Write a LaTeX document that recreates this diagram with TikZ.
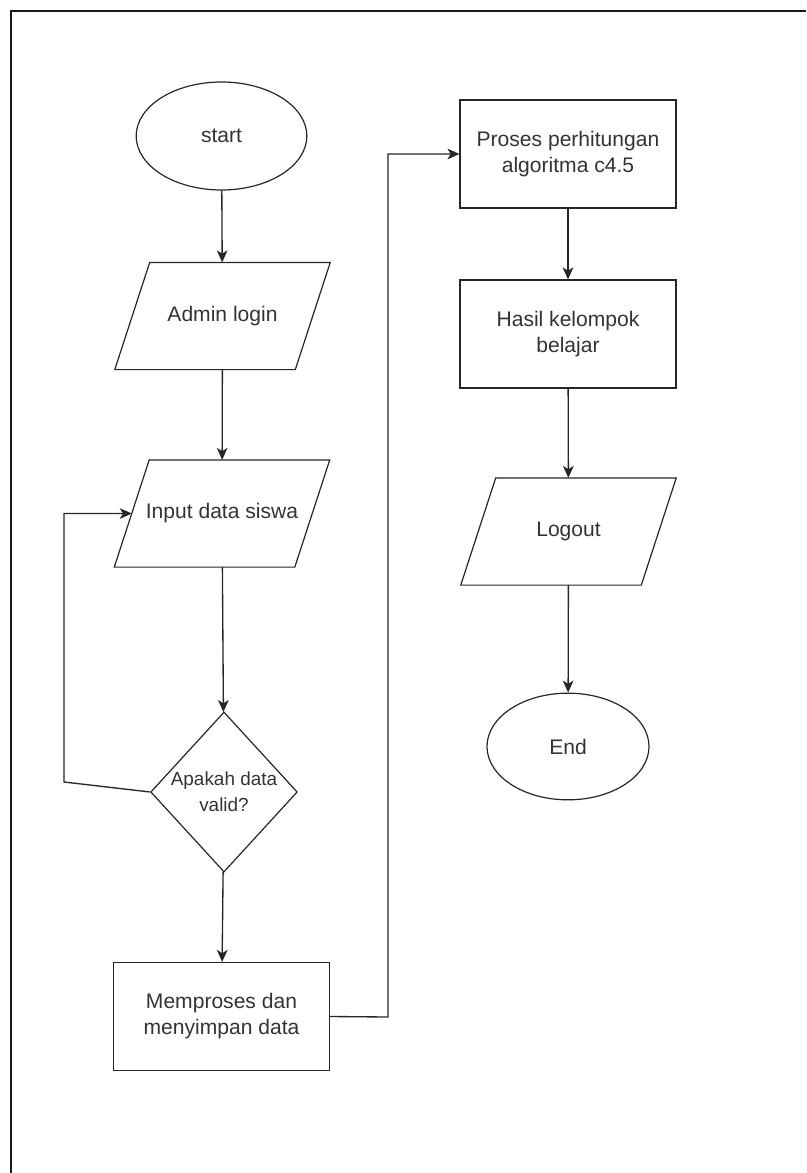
\documentclass[tikz,border=0pt]{standalone}
\usepackage{fontspec}
\setmainfont{Liberation Sans}
\usetikzlibrary{shapes.geometric,arrows.meta}

\tikzset{
  flowline/.style={line width=1pt, draw=black!85, -{Stealth[length=9pt,width=8pt,inset=2.5pt]}},
  terminal/.style={ellipse, draw=black!85, line width=0.9pt, inner sep=0pt, text=black!80},
  iobox/.style={rectangle, inner sep=0pt, minimum width=135pt, minimum height=80pt, text=black!80,
    append after command={\pgfextra{\draw [line width=0.9pt, draw=black!85]
      ([xshift=13.1pt]\tikzlastnode.north west) -- ([xshift=13.1pt]\tikzlastnode.north east)
      -- ([xshift=-13.1pt]\tikzlastnode.south east) -- ([xshift=-13.1pt]\tikzlastnode.south west) -- cycle;}}},
  procbox/.style={rectangle, draw=black!85, line width=0.9pt, inner sep=0pt, minimum width=162pt, minimum height=81pt,
    align=center, text=black!80},
  decision/.style={diamond, draw=black!85, line width=0.9pt, inner sep=0pt, align=center, text=black!80}
}

\begin{document}
\begin{tikzpicture}[x=0.75pt,y=0.75pt,yscale=-1,font=\fontsize{15.8}{19.5}\selectfont]
\useasboundingbox (0,0) rectangle (806,1173);

%Frame
\draw [line width=1.2pt, black!90] (11,1173) -- (11,11) -- (806,11) ;

%Left column
\node [terminal, minimum width=128pt, minimum height=81pt] (start) at (221.5,136) {start};
\node [iobox] (login) at (222.5,316) {Admin login};
\node [iobox] (input) at (222,513.5) {Input data siswa};
\node [decision, minimum width=110pt, minimum height=120pt, font=\fontsize{14.2}{19.5}\selectfont] (valid) at (224,792) {Apakah data\\valid?};
\node [procbox] (save) at (221.5,1016.5) {Memproses dan\\menyimpan data};

%Right column
\node [procbox] (calc) at (568,154) {Proses perhitungan\\algoritma c4.5};
\node [procbox] (result) at (568,334) {Hasil kelompok\\belajar};
\node [iobox] (logout) at (568.5,531.5) {Logout};
\node [terminal, minimum width=121.5pt, minimum height=80pt] (end) at (568,746.5) {End};

%Bend points
\coordinate (loop) at (64,782);
\coordinate (bend) at (388,1017);

%Connectors
\draw [flowline] (start) -- (login);
\draw [flowline] (login) -- (input);
\draw [flowline] (input) -- (valid);
\draw [flowline] (valid.west) -- (loop) |- (input.west);
\draw [flowline] (valid) -- (save);
\draw [flowline] (save.east) -- (bend) |- (calc.west);
\draw [flowline] (calc) -- (result);
\draw [flowline] (result) -- (logout);
\draw [flowline] (logout) -- (end);
\end{tikzpicture}
\end{document}
